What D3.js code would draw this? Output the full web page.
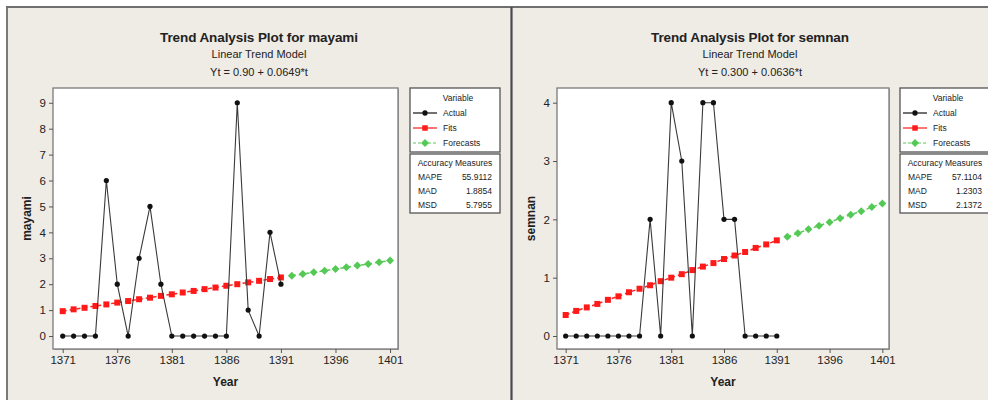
<!DOCTYPE html>
<html>
<head>
<meta charset="utf-8">
<script src="https://cdn.jsdelivr.net/npm/d3@7"></script>
<style>
body { margin: 0; background: #fff; }
svg text { font-family: "Liberation Sans", Arial, sans-serif; fill: #222; }
</style>
</head>
<body>
<svg width="988" height="400"></svg>
<script>
// years
const actualYears = [1371, 1372, 1373, 1374, 1375, 1376, 1377, 1378, 1379, 1380, 1381,
    1382, 1383, 1384, 1385, 1386, 1387, 1388, 1389, 1390, 1391];
const forecastYears = [1392, 1393, 1394, 1395, 1396, 1397, 1398, 1399, 1400, 1401];
const xTicks = [1371, 1376, 1381, 1386, 1391, 1396, 1401];

// mayami
const mayamiActual = [0, 0, 0, 0, 6, 2, 0, 3, 5, 2, 0, 0, 0, 0, 0, 0, 9, 1, 0, 4, 2];
const mayamiFits = [0.96, 1.03, 1.09, 1.16, 1.22, 1.29, 1.35, 1.42, 1.48, 1.55, 1.61,
    1.68, 1.74, 1.81, 1.87, 1.94, 2.00, 2.07, 2.13, 2.20, 2.26];
const mayamiForecasts = [2.33, 2.39, 2.46, 2.52, 2.59, 2.65, 2.72, 2.78, 2.85, 2.91];
const mayamiYTicks = [0, 1, 2, 3, 4, 5, 6, 7, 8, 9];
const mayamiAccuracy = [['MAPE', '55.9112'], ['MAD', '1.8854'], ['MSD', '5.7955']];

// semnan
const semnanActual = [0, 0, 0, 0, 0, 0, 0, 0, 2, 0, 4, 3, 0, 4, 4, 2, 2, 0, 0, 0, 0];
const semnanFits = [0.36, 0.43, 0.49, 0.55, 0.62, 0.68, 0.75, 0.81, 0.87, 0.94, 1.00,
    1.06, 1.13, 1.19, 1.25, 1.32, 1.38, 1.44, 1.51, 1.57, 1.64];
const semnanForecasts = [1.70, 1.76, 1.83, 1.89, 1.95, 2.02, 2.08, 2.14, 2.21, 2.27];
const semnanYTicks = [0, 1, 2, 3, 4];
const semnanAccuracy = [['MAPE', '57.1104'], ['MAD', '1.2303'], ['MSD', '2.1372']];

const svg = d3.select('svg');

// small diamond, a bit wider than d3's default one
const diamond = (r) => 'M0,' + (-r) + 'L' + r + ',0L0,' + r + 'L' + (-r) + ',0Z';

function drawPanel(p) {
    const g = svg.append('g');

    // panel background
    g.append('rect')
        .attr('x', p.px).attr('y', p.py)
        .attr('width', p.pw).attr('height', p.ph)
        .attr('fill', '#efebe5');

    const cx = p.px + p.pw / 2;
    g.append('text').attr('x', cx).attr('y', 42)
        .attr('text-anchor', 'middle').attr('font-size', 13.5).attr('font-weight', 'bold')
        .attr('textLength', 198)
        .text(p.title);
    g.append('text').attr('x', cx).attr('y', 58)
        .attr('text-anchor', 'middle').attr('font-size', 11).attr('fill', '#333')
        .text('Linear Trend Model');
    g.append('text').attr('x', cx).attr('y', 76)
        .attr('text-anchor', 'middle').attr('font-size', 11).attr('fill', '#333')
        .text(p.equation);

    const x = d3.scaleLinear().domain(p.xDomain).range([p.left, p.right]);
    const y = d3.scaleLinear().domain(p.yDomain).range([p.bottom, p.top]);

    // plot area
    g.append('rect')
        .attr('x', p.left + 1).attr('y', p.top + 1)
        .attr('width', p.right - p.left).attr('height', p.bottom - p.top)
        .attr('fill', '#a9a9a9');
    g.append('rect')
        .attr('x', p.left).attr('y', p.top)
        .attr('width', p.right - p.left).attr('height', p.bottom - p.top)
        .attr('fill', '#fff').attr('stroke', '#7a7a7a').attr('stroke-width', 1.3);

    const xAxis = d3.axisBottom(x).tickValues(xTicks).tickSize(4).tickSizeOuter(0).tickPadding(3)
        .tickFormat(d3.format('d'));
    const gx = g.append('g').attr('transform', 'translate(0,' + p.bottom + ')').call(xAxis);
    gx.select('.domain').remove();
    gx.selectAll('line').attr('stroke', '#555');
    gx.selectAll('text').attr('font-size', 11.5).attr('fill', '#333');

    const yAxis = d3.axisLeft(y).tickValues(p.yTicks).tickSize(4).tickSizeOuter(0).tickPadding(3)
        .tickFormat(d3.format('d'));
    const gy = g.append('g').attr('transform', 'translate(' + p.left + ',0)').call(yAxis);
    gy.select('.domain').remove();
    gy.selectAll('line').attr('stroke', '#555');
    gy.selectAll('text').attr('font-size', 11.5).attr('fill', '#333');

    g.append('text').attr('x', (p.left + p.right) / 2).attr('y', 386)
        .attr('text-anchor', 'middle').attr('font-size', 12).attr('font-weight', 'bold')
        .text('Year');
    g.append('text')
        .attr('transform', 'translate(' + (p.left - 22) + ',' + ((p.top + p.bottom) / 2) + ') rotate(-90)')
        .attr('text-anchor', 'middle').attr('font-size', 12).attr('font-weight', 'bold')
        .text(p.yLabel);

    const line = d3.line().x(d => x(d[0])).y(d => y(d[1]));
    const actual = actualYears.map((yr, i) => [yr, p.actual[i]]);
    const fits = actualYears.map((yr, i) => [yr, p.fits[i]]);
    const fc = forecastYears.map((yr, i) => [yr, p.forecasts[i]]);

    // fits
    g.append('path').datum(fits).attr('d', line)
        .attr('fill', 'none').attr('stroke', '#ff2020').attr('stroke-width', 1.5)
        .attr('stroke-dasharray', '4,3');
    g.selectAll('.fit').data(fits).enter().append('rect')
        .attr('x', d => x(d[0]) - 3).attr('y', d => y(d[1]) - 3)
        .attr('width', 6).attr('height', 6).attr('fill', '#ff1a1a');

    // forecasts
    g.append('path').datum(fc).attr('d', line)
        .attr('fill', 'none').attr('stroke', '#5ccc5c').attr('stroke-width', 1.5)
        .attr('stroke-dasharray', '4,3');
    g.selectAll('.fc').data(fc).enter().append('path')
        .attr('transform', d => 'translate(' + x(d[0]) + ',' + y(d[1]) + ')')
        .attr('d', diamond(4))
        .attr('fill', '#55c955');

    // actual
    g.append('path').datum(actual).attr('d', line)
        .attr('fill', 'none').attr('stroke', '#3a3a3a').attr('stroke-width', 1.1);
    g.selectAll('.act').data(actual).enter().append('circle')
        .attr('cx', d => x(d[0])).attr('cy', d => y(d[1])).attr('r', 2.6)
        .attr('fill', '#111');

    // legend
    const lx = p.legendX, lw = p.legendW;
    g.append('rect').attr('x', lx).attr('y', 88).attr('width', lw).attr('height', 64)
        .attr('fill', '#fff').attr('stroke', '#555').attr('stroke-width', 1.3);
    g.append('text').attr('x', lx + 48).attr('y', 101).attr('text-anchor', 'middle')
        .attr('font-size', 8.5).attr('fill', '#333').text('Variable');
    const items = [
        { label: 'Actual', color: '#111', dash: null, sym: 'circle' },
        { label: 'Fits', color: '#ff1a1a', dash: null, sym: 'square' },
        { label: 'Forecasts', color: '#55c955', dash: '3,2', sym: 'diamond' }
    ];
    items.forEach((it, i) => {
        const yy = 113 + i * 15;
        g.append('line').attr('x1', lx + 3).attr('x2', lx + 27).attr('y1', yy).attr('y2', yy)
            .attr('stroke', it.color).attr('stroke-width', 1.2)
            .attr('stroke-dasharray', it.dash);
        const mark = g.append('path').attr('transform', 'translate(' + (lx + 15) + ',' + yy + ')')
            .attr('fill', it.color);
        if (it.sym === 'diamond') mark.attr('d', diamond(4));
        else mark.attr('d', d3.symbol(it.sym === 'circle' ? d3.symbolCircle : d3.symbolSquare,
            it.sym === 'circle' ? 22 : 30));
        g.append('text').attr('x', lx + 33).attr('y', yy + 3)
            .attr('font-size', 8.5).attr('fill', '#333').text(it.label);
    });

    g.append('rect').attr('x', lx).attr('y', 154).attr('width', lw).attr('height', 59)
        .attr('fill', '#fff').attr('stroke', '#555').attr('stroke-width', 1.3);
    g.append('text').attr('x', lx + 45).attr('y', 166).attr('text-anchor', 'middle')
        .attr('font-size', 8.5).attr('fill', '#333').text('Accuracy Measures');
    p.accuracy.forEach((a, i) => {
        const yy = 180 + i * 14;
        g.append('text').attr('x', lx + 8).attr('y', yy).attr('font-size', 8.5).attr('fill', '#333').text(a[0]);
        g.append('text').attr('x', lx + 82).attr('y', yy).attr('text-anchor', 'end')
            .attr('font-size', 8.5).attr('fill', '#333').text(a[1]);
    });
}

drawPanel({
    px: 7, py: 7, pw: 504, ph: 393,
    title: 'Trend Analysis Plot for mayami',
    equation: 'Yt = 0.90 + 0.0649*t',
    left: 53, right: 398, top: 88, bottom: 349,
    xDomain: [1370.11, 1401.73], yDomain: [-0.5, 9.57],
    yTicks: mayamiYTicks, yLabel: 'mayami',
    actual: mayamiActual, fits: mayamiFits, forecasts: mayamiForecasts,
    accuracy: mayamiAccuracy,
    legendX: 410, legendW: 90
});

drawPanel({
    px: 512, py: 7, pw: 476, ph: 393,
    title: 'Trend Analysis Plot for semnan',
    equation: 'Yt = 0.300 + 0.0636*t',
    left: 557, right: 889, top: 88, bottom: 349,
    xDomain: [1370.18, 1401.63], yDomain: [-0.223, 4.252],
    yTicks: semnanYTicks, yLabel: 'semnan',
    actual: semnanActual, fits: semnanFits, forecasts: semnanForecasts,
    accuracy: semnanAccuracy,
    legendX: 900, legendW: 90
});

// panel borders
svg.append('line').attr('x1', 7).attr('x2', 7).attr('y1', 7).attr('y2', 400)
    .attr('stroke', '#7a7a7a').attr('stroke-width', 2);
svg.append('line').attr('x1', 6).attr('x2', 988).attr('y1', 7).attr('y2', 7)
    .attr('stroke', '#6f6f6f').attr('stroke-width', 2);
svg.append('line').attr('x1', 511.5).attr('x2', 511.5).attr('y1', 7).attr('y2', 400)
    .attr('stroke', '#4a4a4a').attr('stroke-width', 2.2);
</script>
</body>
</html>
